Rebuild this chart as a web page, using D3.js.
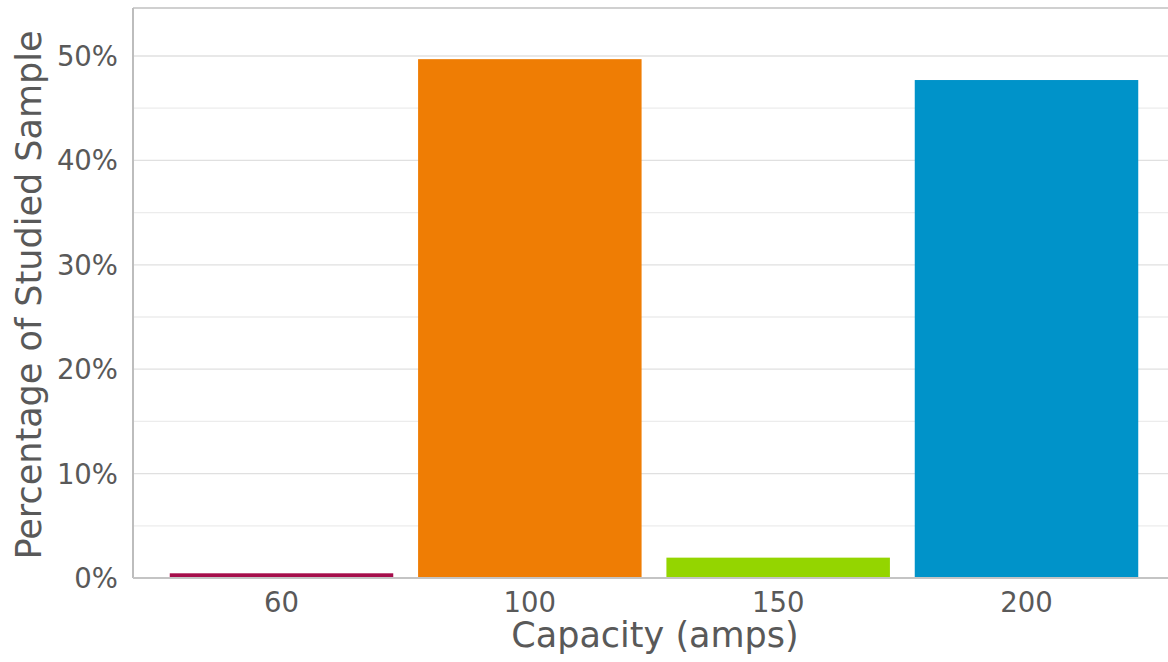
<!DOCTYPE html>
<html>
<head>
<meta charset="utf-8">
<script src="https://cdn.jsdelivr.net/npm/d3@7"></script>
<style>
  html, body { margin: 0; padding: 0; background: #fff; }
  svg { display: block; }
  text { font-family: "DejaVu Sans", Verdana, sans-serif; fill: #595959; }
</style>
</head>
<body>
<svg id="chart" width="1168" height="662"></svg>
<script>
const categories = ["60", "100", "150", "200"];
const values = [0.45, 49.7, 1.95, 47.7];
const colors = ["#a50d4b", "#ef7d04", "#94d500", "#0093c9"];
const yTicks = [0, 10, 20, 30, 40, 50];
const yGrid = [5, 10, 15, 20, 25, 30, 35, 40, 45, 50];

(function () {
const svg = d3.select("#chart");
const pl = 133, pt = 8, pb = 578, pr = 1168;

const y = d3.scaleLinear().domain([0, 54.6]).range([pb, pt]);
const x = d3.scaleBand().domain(categories).range([pl, 1175])
  .paddingInner(0.1).paddingOuter(0.148);

// gridlines
svg.append("g").selectAll("line").data(yGrid).join("line")
  .attr("x1", pl).attr("x2", pr)
  .attr("y1", d => y(d)).attr("y2", d => y(d))
  .attr("stroke", d => d % 10 === 0 ? "#e0e0e0" : "#ececec")
  .attr("stroke-width", 1.3);

// top border
svg.append("line").attr("x1", pl).attr("x2", pr)
  .attr("y1", pt).attr("y2", pt).attr("stroke", "#d0d0d0").attr("stroke-width", 2);

// bars
svg.append("g").selectAll("rect").data(categories).join("rect")
  .attr("x", d => x(d))
  .attr("width", x.bandwidth())
  .attr("y", (d, i) => y(values[i]))
  .attr("height", (d, i) => y(0) - y(values[i]))
  .attr("fill", (d, i) => colors[i]);

// axes lines
svg.append("line").attr("x1", pl).attr("x2", pl)
  .attr("y1", pt).attr("y2", pb).attr("stroke", "#bdbdbd").attr("stroke-width", 2);
svg.append("line").attr("x1", pl).attr("x2", pr)
  .attr("y1", pb).attr("y2", pb).attr("stroke", "#c4c4c4").attr("stroke-width", 2);

// y tick labels
svg.append("g").selectAll("text").data(yTicks).join("text")
  .attr("x", 118).attr("y", d => y(d))
  .attr("dy", "0.36em")
  .attr("text-anchor", "end")
  .attr("font-size", 27.5)
  .text(d => d + "%");

// x tick labels
svg.append("g").selectAll("text").data(categories).join("text")
  .attr("x", d => x(d) + x.bandwidth() / 2)
  .attr("y", 612)
  .attr("text-anchor", "middle")
  .attr("font-size", 27.5)
  .text(d => d);

// axis titles
svg.append("text")
  .attr("x", 655).attr("y", 647)
  .attr("text-anchor", "middle")
  .attr("font-size", 35)
  .text("Capacity (amps)");

svg.append("text")
  .attr("transform", `translate(41, ${(pt + pb) / 2 + 2}) rotate(-90)`)
  .attr("text-anchor", "middle")
  .attr("font-size", 35)
  .text("Percentage of Studied Sample");
})();
</script>
</body>
</html>
